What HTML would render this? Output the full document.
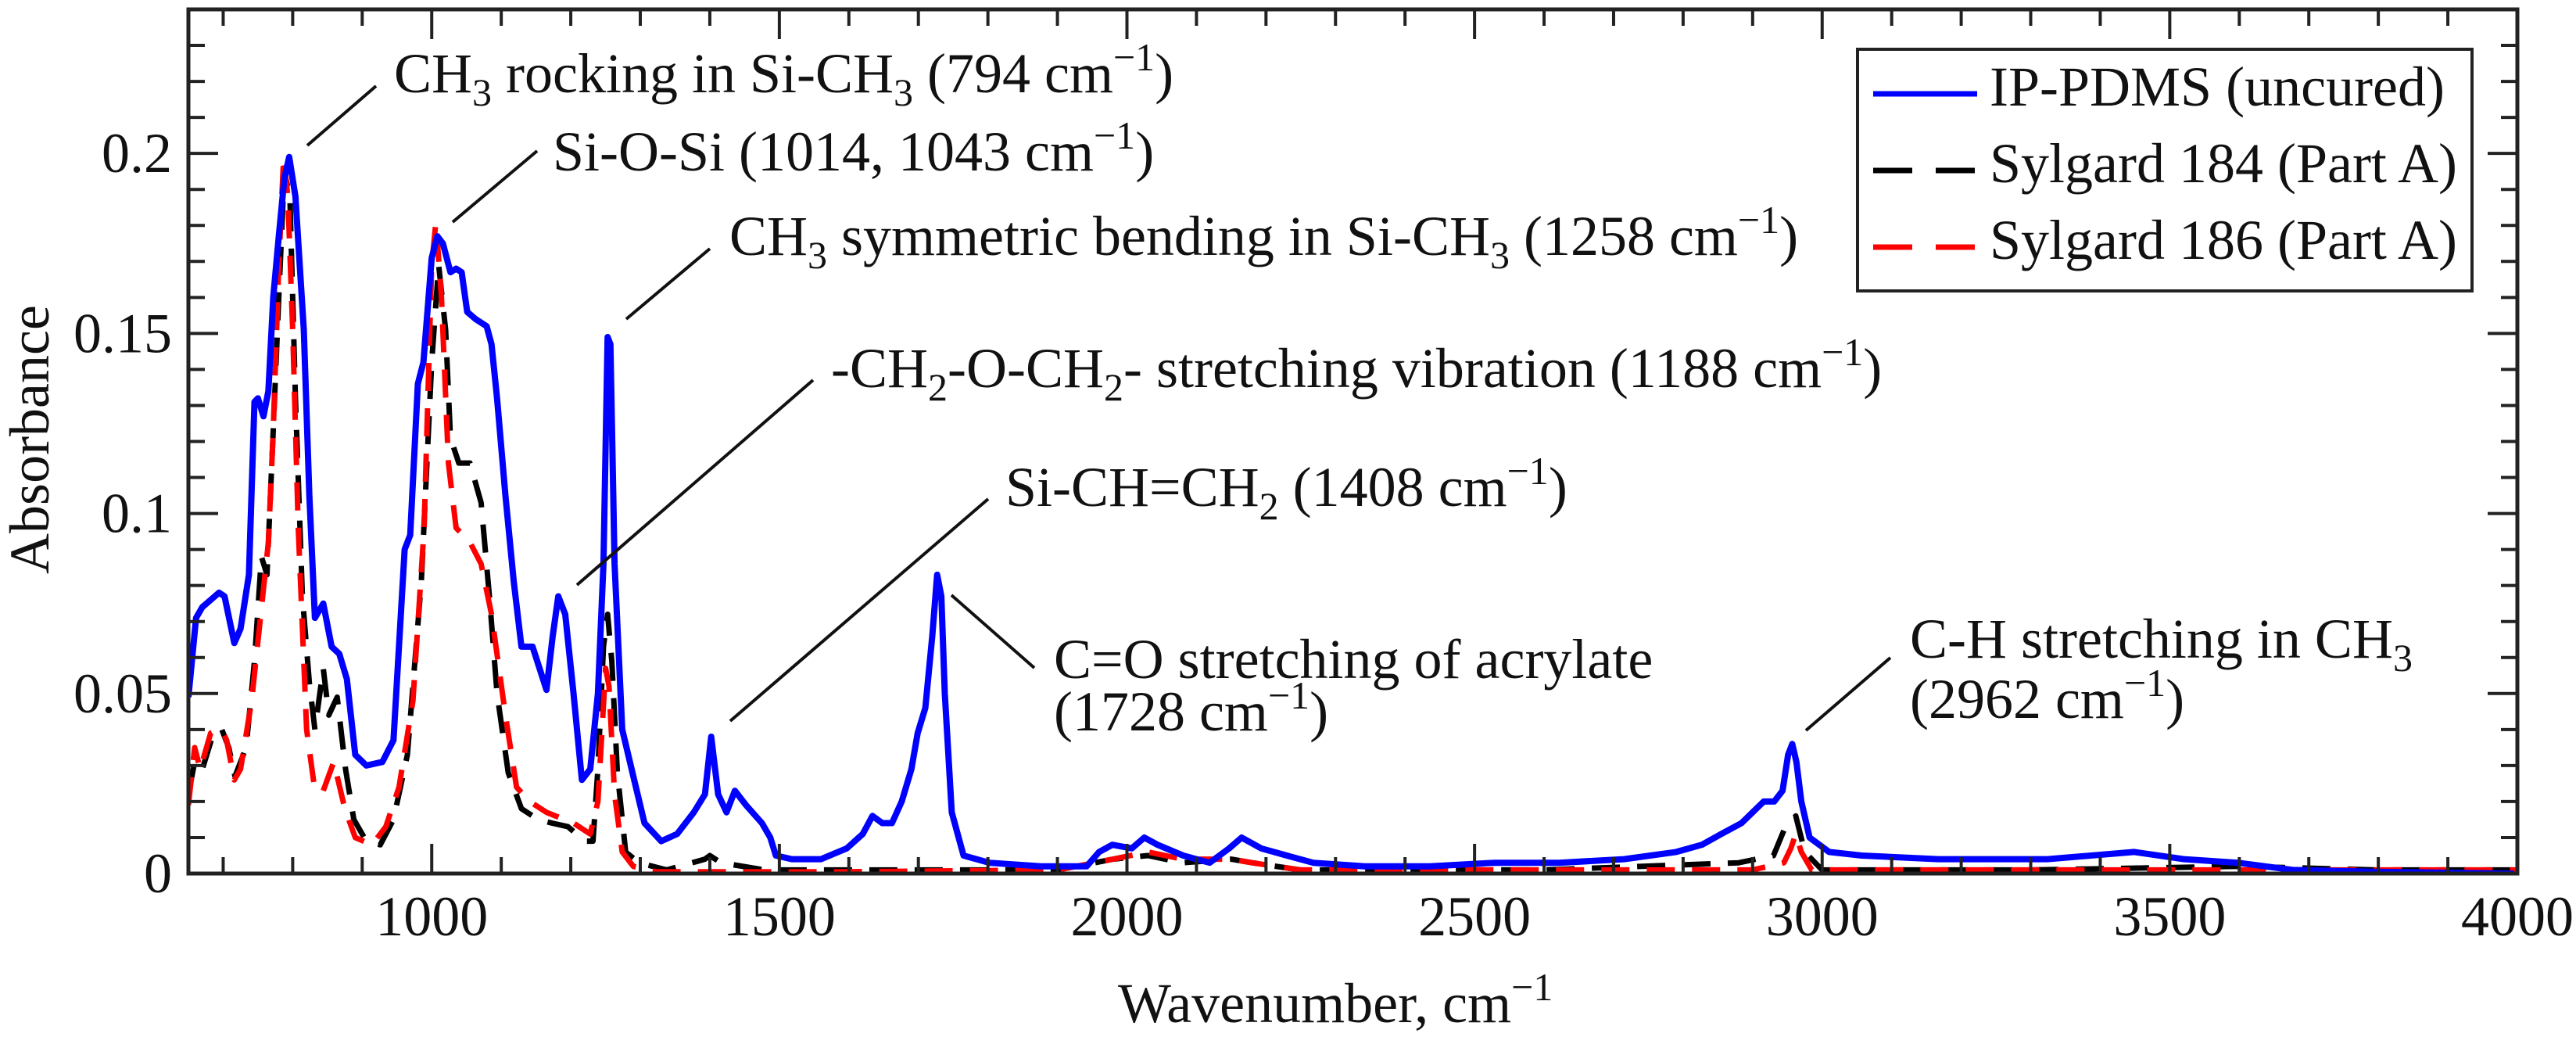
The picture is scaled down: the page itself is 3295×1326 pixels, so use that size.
<!DOCTYPE html>
<html><head><meta charset="utf-8"><style>
html,body{margin:0;padding:0;background:#fff}
svg{display:block}
text{font-family:"Liberation Serif",serif;fill:#111}
</style></head><body>
<svg id="chart" width="3295" height="1326" viewBox="0 0 3295 1326" xmlns="http://www.w3.org/2000/svg">
<rect width="3295" height="1326" fill="#fff"/>
<g id="series"></g>
<g id="axes"></g>
<g font-size="72" stroke="#111" stroke-width="4">
 <line x1="393" y1="186" x2="481" y2="110"/>
 <text x="504" y="118" stroke="none">CH<tspan font-size="50" dy="17">3</tspan><tspan dy="-17"> rocking in Si-CH</tspan><tspan font-size="50" dy="17">3</tspan><tspan dy="-17"> (794 cm</tspan><tspan font-size="50" dy="-28">−1</tspan><tspan dy="28">)</tspan></text>
 <line x1="579" y1="284" x2="687" y2="193"/>
 <text x="707" y="218" stroke="none">Si-O-Si (1014, 1043 cm<tspan font-size="50" dy="-28">−1</tspan><tspan dy="28">)</tspan></text>
 <line x1="801" y1="408" x2="908" y2="318"/>
 <text x="933" y="326" stroke="none">CH<tspan font-size="50" dy="17">3</tspan><tspan dy="-17"> symmetric bending in Si-CH</tspan><tspan font-size="50" dy="17">3</tspan><tspan dy="-17"> (1258 cm</tspan><tspan font-size="50" dy="-28">−1</tspan><tspan dy="28">)</tspan></text>
 <line x1="738" y1="748" x2="1040" y2="486"/>
 <text x="1063" y="495" stroke="none">-CH<tspan font-size="50" dy="17">2</tspan><tspan dy="-17">-O-CH</tspan><tspan font-size="50" dy="17">2</tspan><tspan dy="-17">- stretching vibration (1188 cm</tspan><tspan font-size="50" dy="-28">−1</tspan><tspan dy="28">)</tspan></text>
 <line x1="934" y1="922" x2="1264" y2="638"/>
 <text x="1286" y="647" stroke="none">Si-CH=CH<tspan font-size="50" dy="17">2</tspan><tspan dy="-17"> (1408 cm</tspan><tspan font-size="50" dy="-28">−1</tspan><tspan dy="28">)</tspan></text>
 <line x1="1217" y1="761" x2="1323" y2="854"/>
 <text x="1348" y="867" stroke="none">C=O stretching of acrylate</text>
 <text x="1348" y="934" stroke="none">(1728 cm<tspan font-size="50" dy="-28">−1</tspan><tspan dy="28">)</tspan></text>
 <line x1="2310" y1="934" x2="2418" y2="841"/>
 <text x="2443" y="841" stroke="none">C-H stretching in CH<tspan font-size="50" dy="17">3</tspan></text>
 <text x="2443" y="918" stroke="none">(2962 cm<tspan font-size="50" dy="-28">−1</tspan><tspan dy="28">)</tspan></text>
</g>
<g>
 <rect x="2376" y="63" width="786" height="309" fill="#fff" stroke="#222" stroke-width="4"/>
 <line x1="2396" y1="120" x2="2529" y2="120" stroke="#0000ff" stroke-width="7"/>
 <text x="2545" y="135" font-size="72">IP-PDMS (uncured)</text>
 <line x1="2396" y1="218" x2="2529" y2="218" stroke="#000" stroke-width="7" stroke-dasharray="50 30"/>
 <text x="2545" y="233" font-size="72">Sylgard 184 (Part A)</text>
 <line x1="2396" y1="316" x2="2529" y2="316" stroke="#ff0000" stroke-width="7" stroke-dasharray="50 30"/>
 <text x="2545" y="331" font-size="72">Sylgard 186 (Part A)</text>
</g>
</svg>
<script>
const xTicks = [1000, 1500, 2000, 2500, 3000, 3500, 4000];
const xTickLabels = ["1000", "1500", "2000", "2500", "3000", "3500", "4000"];
const yTicks = [0, 0.05, 0.1, 0.15, 0.2];
const yTickLabels = ["0", "0.05", "0.1", "0.15", "0.2"];
const ipWn = [650,661,670,682,694,702,716,725,737,745,750,758,765,772,780,788,795,804,816,824,832,844,856,867,878,890,906,929,945,961,969,980,988,1000,1008,1016,1027,1035,1043,1051,1063,1079,1086,1094,1106,1118,1129,1145,1165,1174,1182,1192,1204,1216,1228,1239,1247,1253,1257,1263,1274,1290,1306,1330,1353,1377,1393,1402,1412,1424,1436,1452,1475,1487,1495,1518,1560,1597,1620,1634,1648,1662,1676,1690,1699,1710,1720,1727,1733,1738,1748,1765,1802,1876,1942,1960,1979,2007,2025,2044,2081,2119,2147,2165,2193,2230,2268,2342,2436,2529,2622,2715,2790,2827,2855,2884,2916,2931,2943,2951,2957,2963,2970,2982,3010,3057,3167,3324,3449,3520,3598,3677,3795,3995];
const ipAbs = [0.049,0.071,0.074,0.076,0.078,0.077,0.064,0.068,0.083,0.131,0.132,0.127,0.134,0.160,0.177,0.193,0.199,0.188,0.151,0.105,0.071,0.075,0.063,0.061,0.054,0.033,0.030,0.031,0.037,0.090,0.094,0.136,0.142,0.171,0.177,0.175,0.167,0.168,0.167,0.156,0.154,0.152,0.147,0.132,0.105,0.081,0.063,0.063,0.051,0.066,0.077,0.072,0.050,0.026,0.029,0.050,0.086,0.149,0.147,0.086,0.040,0.027,0.014,0.009,0.011,0.017,0.022,0.038,0.022,0.017,0.023,0.019,0.014,0.010,0.005,0.004,0.004,0.007,0.011,0.016,0.014,0.014,0.020,0.029,0.039,0.046,0.066,0.083,0.077,0.050,0.017,0.005,0.003,0.002,0.002,0.006,0.008,0.007,0.010,0.008,0.005,0.003,0.007,0.010,0.007,0.005,0.003,0.002,0.002,0.003,0.003,0.004,0.006,0.008,0.011,0.014,0.020,0.020,0.023,0.033,0.036,0.031,0.020,0.010,0.006,0.005,0.004,0.004,0.006,0.004,0.003,0.001,0.0005,0.0];
const s184Wn = [650,659,670,686,698,708,717,733,745,755,763,772,780,788,796,804,814,824,832,844,852,864,876,888,906,926,945,965,985,1000,1010,1020,1027,1039,1055,1071,1083,1094,1110,1129,1153,1173,1196,1220,1232,1239,1247,1253,1259,1267,1279,1298,1338,1393,1400,1416,1479,1600,1900,1980,2030,2080,2150,2180,2250,2600,2880,2930,2945,2962,2975,3000,3300,3600,3800,4000];
const s184Abs = [0.022,0.031,0.029,0.039,0.040,0.035,0.027,0.035,0.059,0.088,0.083,0.123,0.160,0.195,0.188,0.132,0.077,0.053,0.040,0.057,0.044,0.049,0.029,0.015,0.009,0.008,0.015,0.033,0.081,0.142,0.169,0.151,0.121,0.114,0.114,0.103,0.077,0.050,0.028,0.018,0.015,0.014,0.013,0.009,0.009,0.029,0.063,0.072,0.059,0.028,0.006,0.003,0.001,0.004,0.005,0.003,0.001,0.001,0.001,0.004,0.005,0.003,0.004,0.003,0.001,0.001,0.003,0.005,0.012,0.016,0.006,0.001,0.001,0.002,0.001,0.001];
const s186Wn = [650,659,667,682,698,705,716,725,741,753,765,772,780,787,793,800,808,820,832,844,859,875,890,914,934,953,973,989,1000,1006,1014,1024,1035,1055,1071,1086,1106,1122,1141,1165,1204,1228,1239,1250,1255,1263,1274,1290,1322,1600,1900,1980,2030,2080,2150,2180,2250,2600,2900,2945,2955,2962,2970,2985,3300,3600,4000];
const s186Abs = [0.019,0.035,0.029,0.039,0.040,0.037,0.026,0.029,0.048,0.070,0.092,0.123,0.169,0.199,0.188,0.151,0.096,0.040,0.023,0.023,0.031,0.018,0.010,0.008,0.013,0.024,0.048,0.096,0.169,0.181,0.160,0.114,0.096,0.092,0.086,0.072,0.044,0.024,0.020,0.017,0.014,0.011,0.020,0.057,0.052,0.022,0.006,0.002,0.0005,0.0005,0.001,0.004,0.006,0.004,0.004,0.003,0.001,0.001,0.001,0.003,0.007,0.011,0.006,0.001,0.001,0.001,0.001];

const NS = "http://www.w3.org/2000/svg";
const L = 241, R = 3220, T = 12, B = 1117;
const xMin = 650, xMax = 4000, yMin = 0, yMax = 0.24;
function xs(v){ return L + (v - xMin) / (xMax - xMin) * (R - L); }
function ys(v){ return B - (v - yMin) / (yMax - yMin) * (B - T); }
function mk(tag, attrs, parent){ const e = document.createElementNS(NS, tag); for (const k in attrs) e.setAttribute(k, attrs[k]); parent.appendChild(e); return e; }

const sg = document.getElementById('series');
const clip = mk('clipPath', {id:'plotclip'}, sg);
mk('rect', {x:L, y:T, width:R-L, height:B-T}, clip);
function drawSeries(wn, ab, color, dash, name, w){
  let d = '';
  for (let i = 0; i < wn.length; i++) d += (i ? 'L' : 'M') + xs(wn[i]).toFixed(1) + ',' + ys(ab[i]).toFixed(1);
  const p = mk('path', {d:d, fill:'none', stroke:color, 'stroke-width':w, 'stroke-linejoin':'round', 'clip-path':'url(#plotclip)'}, sg);
  if (dash) p.setAttribute('stroke-dasharray', dash);
  
  
}
drawSeries(s184Wn, s184Abs, '#000000', '36 22', 'line-sylgard-184', 7);
drawSeries(s186Wn, s186Abs, '#ff0000', '36 22', 'line-sylgard-186', 7);
drawSeries(ipWn, ipAbs, '#0000ff', null, 'line-ip-pdms', 8);

const ag = document.getElementById('axes');
const frame = mk('rect', {x:L, y:T, width:R-L, height:B-T, fill:'none', stroke:'#222', 'stroke-width':5}, ag);


for (let v = 700; v <= 4000; v += 100){
  const x = xs(v), major = (v % 500 === 0), len = major ? 38 : 21;
  const t1 = mk('line', {x1:x, y1:B, x2:x, y2:B-len, stroke:'#222', 'stroke-width':4}, ag);
  
  
  const t2 = mk('line', {x1:x, y1:T, x2:x, y2:T+len, stroke:'#222', 'stroke-width':4}, ag);
  
  
}
for (let i = 1; i <= 23; i++){
  const v = i * 0.01, y = ys(v), major = (i % 5 === 0), len = major ? 38 : 21;
  const t1 = mk('line', {x1:L, y1:y, x2:L+len, y2:y, stroke:'#222', 'stroke-width':4}, ag);
  
  
  const t2 = mk('line', {x1:R, y1:y, x2:R-len, y2:y, stroke:'#222', 'stroke-width':4}, ag);
  
  
}
xTicks.forEach((v, i) => {
  const t = mk('text', {x:xs(v), y:1196, 'text-anchor':'middle', 'font-size':72}, ag);
  t.textContent = xTickLabels[i];
  
  
});
yTicks.forEach((v, i) => {
  const t = mk('text', {x:220, y:ys(v)+24, 'text-anchor':'end', 'font-size':72}, ag);
  t.textContent = yTickLabels[i];
  
  
});
const xt = mk('text', {x:1430, y:1307, 'font-size':72}, ag);
xt.innerHTML = 'Wavenumber, cm<tspan font-size="50" dy="-28">−1</tspan>';


const yt = mk('text', {x:0, y:0, 'text-anchor':'middle', 'font-size':72, transform:'translate(62,562) rotate(-90)'}, ag);
yt.textContent = 'Absorbance';


</script>
</body></html>
